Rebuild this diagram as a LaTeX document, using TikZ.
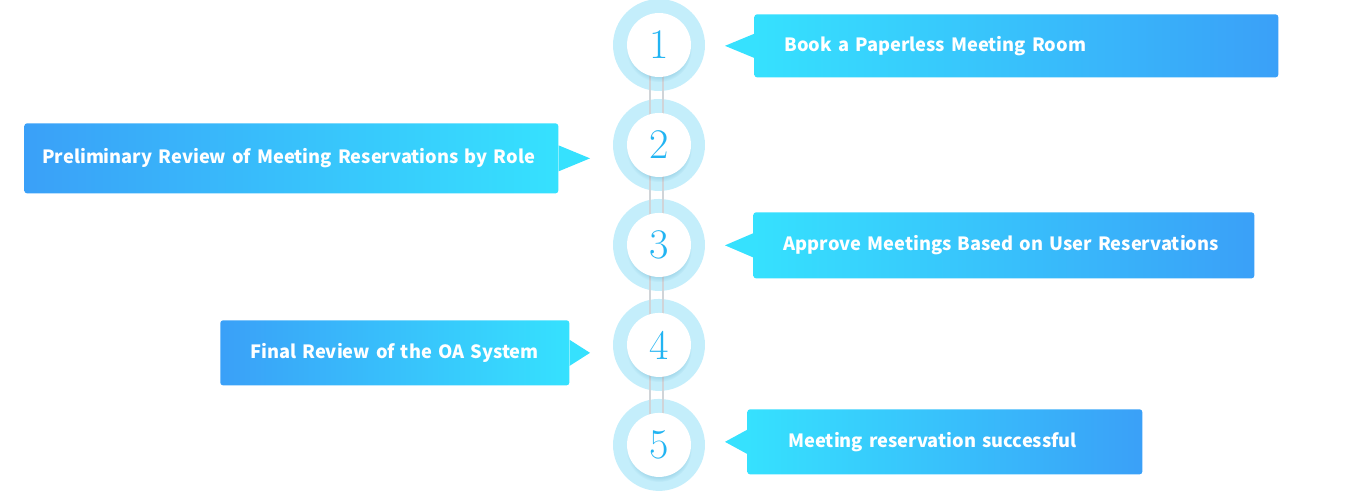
\documentclass[tikz,border=0pt]{standalone}
\usepackage{fontspec}
\setsansfont{Noto Sans CJK SC}
\usepackage{tikz}
\usetikzlibrary{positioning,shadows}
\definecolor{ringblue}{HTML}{C4EEFB}
\definecolor{numblue}{HTML}{22B4F2}
\definecolor{boxcyan}{HTML}{36E1FE}
\definecolor{boxblue}{HTML}{3AA0F8}
\definecolor{linegray}{HTML}{D0D4D8}
\tikzstyle{ring} = [circle, fill=ringblue, minimum size=1.84cm, inner sep=0pt]
\tikzstyle{numcircle} = [circle, fill=white, minimum size=1.28cm, inner sep=0pt,
    font=\rmfamily\fontsize{24}{24}\selectfont, text=numblue,
    circular drop shadow={shadow xshift=0pt, shadow yshift=-2.5pt, shadow scale=1.02, opacity=0.18, fill=numblue!70!black}]
\tikzstyle{rbox} = [rectangle, rounded corners=1.5pt, minimum height=1.26cm, align=left,
    left color=boxcyan, right color=boxblue, text=white,
    font=\sffamily\bfseries\fontsize{10.4}{12}\selectfont]
\tikzstyle{lbox} = [rbox, left color=boxblue, right color=boxcyan]
\tikzstyle{vline} = [draw=linegray, line width=0.6pt]

\begin{document}
\begin{tikzpicture}[x=0.02cm, y=-0.02cm, node distance=2cm]
    \useasboundingbox (0,0) rectangle (1366,500);
    % rings
    \node [ring] (r1) at (659,45) {};
    \node [ring, below of=r1] (r2) {};
    \node [ring, below of=r2] (r3) {};
    \node [ring, below of=r3] (r4) {};
    \node [ring, below of=r4] (r5) {};
    \draw [vline] ([xshift=-0.18cm]r1.center) -- ([xshift=-0.18cm]r5.center);
    \draw [vline] ([xshift=0.08cm]r1.center) -- ([xshift=0.08cm]r5.center);
    \foreach \i in {1,...,5}
        \node [numcircle] (c\i) at (r\i) {\i};
    % boxes
    \node [rbox, anchor=north west, minimum width=10.48cm, text width=9.28cm, inner xsep=0.6cm] (b1) at (754,14) {Book a Paperless Meeting Room};
    \node [lbox, anchor=north west, minimum width=10.68cm, text width=9.96cm, inner xsep=0.36cm, minimum height=1.4cm] (b2) at (24,123) {Preliminary Review of Meeting Reservations by Role};
    \node [rbox, anchor=north west, minimum width=10.02cm, text width=8.8cm, inner xsep=0.61cm, minimum height=1.32cm] (b3) at (753,212) {Approve Meetings Based on User Reservations};
    \node [lbox, anchor=north west, minimum width=6.98cm, text width=5.78cm, inner xsep=0.6cm, minimum height=1.3cm] (b4) at (220,320) {Final Review of the OA System};
    \node [rbox, anchor=north west, minimum width=7.9cm, text width=6.26cm, inner xsep=0.82cm, minimum height=1.3cm] (b5) at (747,409) {Meeting reservation successful};
    % pointers
    \coordinate (tr) at (725,0);
    \coordinate (tl) at (590,0);
    \foreach \b/\t in {b1/tr,b3/tr,b5/tr}
        \fill [boxcyan] ([yshift=0.24cm]\b.west) -- (\t |- \b.west) -- ([yshift=-0.24cm]\b.west) -- cycle;
    \foreach \b/\t in {b2/tl,b4/tl}
        \fill [boxcyan] ([yshift=0.26cm]\b.east) -- (\t |- \b.east) -- ([yshift=-0.26cm]\b.east) -- cycle;
\end{tikzpicture}
\end{document}
